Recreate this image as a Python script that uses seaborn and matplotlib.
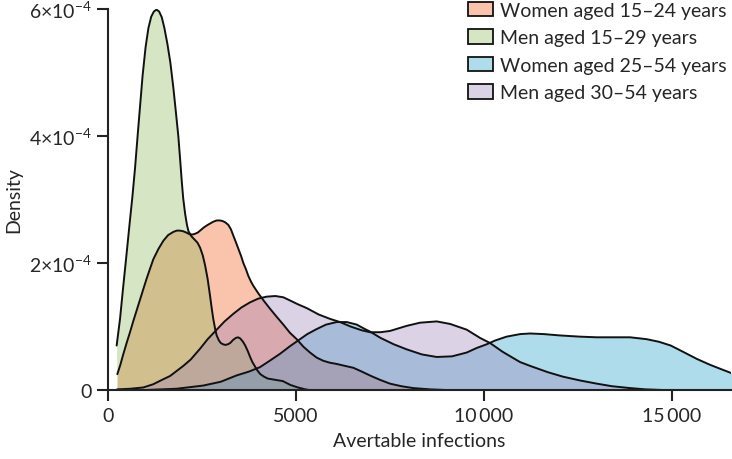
import numpy as np
import matplotlib
matplotlib.use("Agg")
import matplotlib.pyplot as plt
from matplotlib.patches import Patch
import seaborn as sns

# density curves (x = avertable infections, d in units of 1e-4)
x_women_15_24 = [248, 330, 400, 490, 585, 670, 760, 850, 940, 1020, 1100, 1206, 1340, 1472, 1600, 1738,
                 1830, 1915, 2000, 2080, 2180, 2260, 2314, 2390, 2470, 2550, 2625, 2710, 2800, 2890,
                 2979, 3050, 3120, 3200, 3270, 3334, 3400, 3470, 3540, 3600, 3670, 3730, 3800, 3866,
                 4000, 4150, 4309, 4490, 4663, 4840, 5019, 5200, 5373, 5550, 5727, 5900, 6083, 6300,
                 6525, 6750, 7000, 7235, 7500, 7800, 8121, 8565, 9000]
d_women_15_24 = [0.25, 0.40, 0.55, 0.73, 0.91, 1.08, 1.25, 1.42, 1.59, 1.74, 1.88, 2.06, 2.22, 2.35, 2.44,
                 2.49, 2.51, 2.51, 2.50, 2.48, 2.45, 2.45, 2.46, 2.48, 2.52, 2.56, 2.59, 2.62, 2.65, 2.67,
                 2.67, 2.66, 2.64, 2.60, 2.53, 2.43, 2.33, 2.22, 2.11, 2.00, 1.90, 1.80, 1.71, 1.64,
                 1.52, 1.40, 1.28, 1.15, 1.03, 0.90, 0.80, 0.68, 0.59, 0.51, 0.46, 0.43, 0.41, 0.38,
                 0.35, 0.29, 0.22, 0.16, 0.10, 0.06, 0.03, 0.01, 0.0]

x_men_15_29 = [230, 320, 400, 490, 580, 650, 720, 790, 850, 920, 1000, 1075, 1150, 1220, 1290, 1360,
               1430, 1500, 1580, 1660, 1740, 1810, 1870, 1920, 1960, 2000, 2050, 2100, 2140, 2220,
               2300, 2380, 2450, 2520, 2580, 2650, 2710, 2760, 2800, 2850, 2890, 2950, 3000, 3060,
               3120, 3190, 3250, 3330, 3400, 3460, 3520, 3590, 3650, 3720, 3780, 3840, 3900, 3970,
               4050, 4150, 4250, 4450, 4650, 4850, 5050, 5250, 5350]
d_men_15_29 = [0.70, 1.12, 1.60, 2.12, 2.65, 3.05, 3.50, 4.02, 4.45, 4.95, 5.40, 5.70, 5.88, 5.96, 5.99, 5.96,
               5.87, 5.70, 5.45, 5.15, 4.75, 4.35, 4.00, 3.62, 3.30, 3.02, 2.78, 2.60, 2.50, 2.42,
               2.37, 2.32, 2.24, 2.12, 1.97, 1.75, 1.50, 1.28, 1.12, 0.96, 0.86, 0.78, 0.74, 0.72,
               0.71, 0.72, 0.74, 0.79, 0.82, 0.83, 0.81, 0.76, 0.70, 0.61, 0.52, 0.44, 0.38, 0.31,
               0.25, 0.21, 0.18, 0.16, 0.14, 0.08, 0.04, 0.01, 0.0]

x_women_25_54 = [240, 1000, 1827, 2535, 3000, 3423, 3750, 4043, 4300, 4575, 4841, 5107, 5300, 5551,
                 5800, 6083, 6350, 6615, 6800, 6969, 7250, 7600, 7944, 8350, 8743, 9150, 9541, 9800,
                 10072, 10300, 10600, 10959, 11225, 11600, 12000, 12555, 13000, 13500, 13885, 14329,
                 14650, 14968, 15300, 15660, 16000, 16300, 16563, 16800]
d_women_25_54 = [0.0, 0.0, 0.02, 0.07, 0.13, 0.23, 0.29, 0.36, 0.46, 0.57, 0.69, 0.80, 0.88, 0.96,
                 1.03, 1.07, 1.07, 1.03, 0.97, 0.92, 0.82, 0.72, 0.64, 0.56, 0.52, 0.53, 0.59, 0.66,
                 0.72, 0.78, 0.84, 0.88, 0.89, 0.88, 0.86, 0.84, 0.83, 0.83, 0.83, 0.80,
                 0.76, 0.70, 0.60, 0.49, 0.40, 0.33, 0.27, 0.22]

x_men_30_54 = [240, 600, 940, 1200, 1472, 1650, 1827, 2004, 2200, 2448, 2650, 2891, 3100, 3334, 3550,
               3777, 4000, 4221, 4450, 4663, 4841, 5050, 5285, 5600, 5905, 6171, 6450, 6750, 6969,
               7250, 7501, 7944, 8300, 8743, 9100, 9541, 9895, 10161, 10500, 10959, 11225, 11700,
               12100, 12555, 13000, 13400, 13885, 14300, 14763]
d_men_30_54 = [0.01, 0.02, 0.04, 0.09, 0.17, 0.22, 0.30, 0.38, 0.48, 0.65, 0.80, 0.95, 1.08, 1.20, 1.30,
               1.38, 1.44, 1.47, 1.48, 1.46, 1.41, 1.35, 1.29, 1.19, 1.12, 1.07, 1.00, 0.94, 0.91,
               0.91, 0.93, 1.01, 1.06, 1.08, 1.04, 0.95, 0.82, 0.74, 0.60, 0.44, 0.38, 0.28,
               0.21, 0.15, 0.10, 0.06, 0.03, 0.01, 0.0]

labels = ["Women aged 15–24 years", "Men aged 15–29 years",
          "Women aged 25–54 years", "Men aged 30–54 years"]
xs = [x_women_15_24, x_men_15_29, x_women_25_54, x_men_30_54]
ds = [d_women_15_24, d_men_15_29, d_women_25_54, d_men_30_54]
colors = ["#f15412", "#8ab856", "#1a9bc6", "#9b7eb8"]
ALPHA = 0.35
SCALE = 1e-4

sns.set_style("ticks")
plt.rcParams["font.family"] = ["Lato", "DejaVu Sans"]
plt.rcParams["mathtext.fontset"] = "custom"
plt.rcParams["mathtext.rm"] = "Lato"

fig = plt.figure(figsize=(7.32, 4.6), dpi=100)
ax = fig.add_axes([108 / 732, 69 / 460, 623 / 732, 381 / 460])

for x, d, c in zip(xs, ds, colors):
    x = np.array(x)
    d = np.array(d) * SCALE
    ax.fill_between(x, 0, d, color=c, alpha=ALPHA, linewidth=0)
    sns.lineplot(x=x, y=d, ax=ax, color="#111111", linewidth=1.4, sort=False)

ax.set_xlim(0, 16570)
ax.set_ylim(0, 6e-4)
ax.set_xticks([0, 5000, 10000, 15000])
ax.set_xticklabels(["0", "5000", "10\u2009000", "15\u2009000"])
ax.set_yticks([0, 2e-4, 4e-4, 6e-4])
ax.set_yticklabels(["0"] + [r"$\mathregular{%d{\times}10^{-4}}$" % k for k in (2, 4, 6)])
ax.tick_params(axis="both", labelsize=14, length=8, width=1.5, color="#222222", pad=4)
for s in ["left", "bottom"]:
    ax.spines[s].set_linewidth(1.5)
    ax.spines[s].set_color("#222222")
sns.despine(ax=ax)
ax.set_xlabel("Avertable infections", fontsize=14, labelpad=6)
ax.set_ylabel("Density", fontsize=14)
ax.yaxis.set_label_coords(-0.137, 0.5)

handles = [Patch(facecolor=(*matplotlib.colors.to_rgb(c), ALPHA), edgecolor="#111111", linewidth=1.3)
           for c in colors]
ax.legend(handles, labels, loc="upper right", bbox_to_anchor=(1.005, 1.04), frameon=False,
          fontsize=14, handlelength=1.3, handleheight=0.8, handletextpad=0.35, labelspacing=0.53,
          borderaxespad=0)

fig.savefig("out.png", dpi=100)
